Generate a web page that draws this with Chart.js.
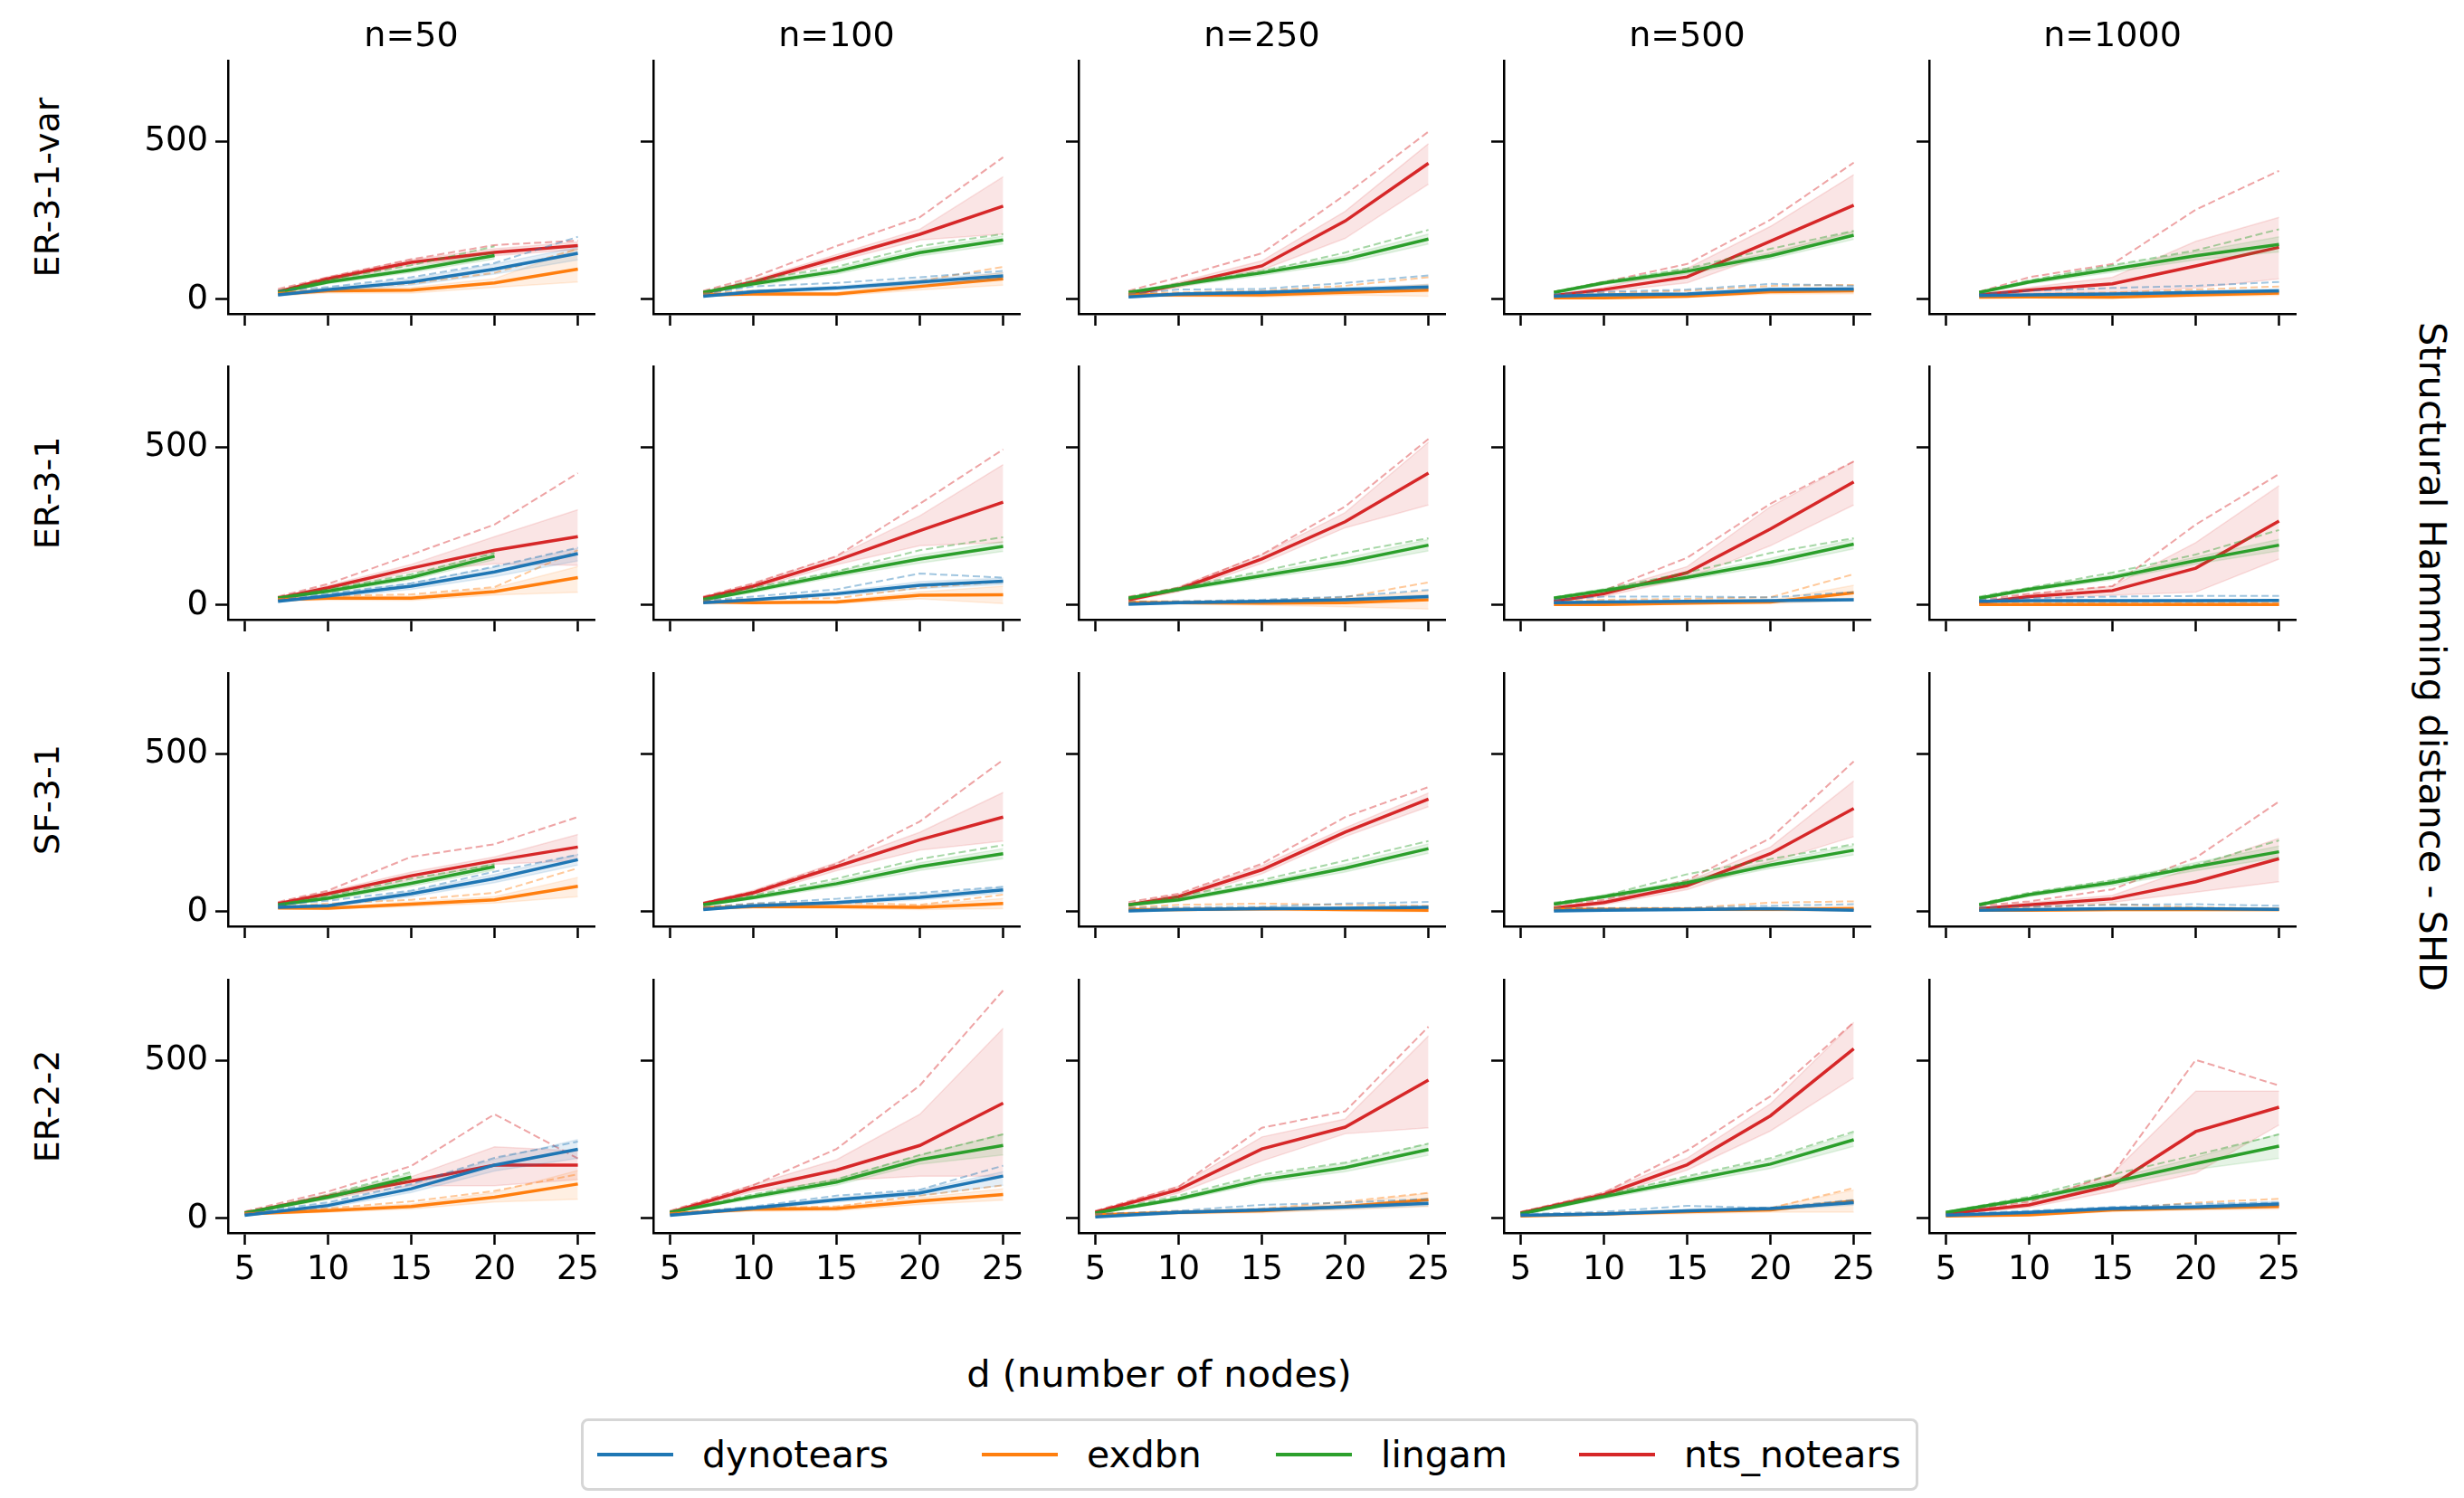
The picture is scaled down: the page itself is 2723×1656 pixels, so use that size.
<!DOCTYPE html>
<html>
<head>
<meta charset="utf-8">
<script src="https://cdn.jsdelivr.net/npm/chart.js@4.4.0/dist/chart.umd.min.js"></script>
<style>
  html, body { margin:0; padding:0; background:#fff; }
  #fig { position:relative; width:2723px; height:1656px; overflow:hidden; font-family:'DejaVu Sans', sans-serif; color:#000; }
  .panel { position:absolute; }
  .coltitle { position:absolute; font-size:38px; transform:translate(-50%,-50%); white-space:nowrap; }
  .rowlabel { position:absolute; font-size:38px; transform:translate(-50%,-50%) rotate(-90deg); white-space:nowrap; }
  .rightlabel { position:absolute; font-size:41.5px; transform:translate(-50%,-50%) rotate(90deg); white-space:nowrap; }
  .xlabel { position:absolute; font-size:41.5px; transform:translate(-50%,-50%); white-space:nowrap; }
  #legend { position:absolute; left:642px; top:1568px; width:1472px; height:74px; border:3px solid #d6d6d6; border-radius:8px; background:#fff; }
  .leg { position:absolute; top:0; height:74px; display:flex; align-items:center; font-size:41px; white-space:nowrap; }
  .leg i { display:inline-block; width:84px; height:4px; margin-right:32px; }
</style>
</head>
<body>
<div id="fig"></div>
<script>
// ---------- data ----------
const colTitles = ['n=50', 'n=100', 'n=250', 'n=500', 'n=1000'];
const rowLabels = ['ER-3-1-var', 'ER-3-1', 'SF-3-1', 'ER-2-2'];
const methodNames = ['dynotears', 'exdbn', 'lingam', 'nts_notears'];
const xTicks = [5, 10, 15, 20, 25];
const yTicks = [0, 500];
// d values per row
const dRows = [[7,10,15,20,25],[7,10,15,20,25],[7,10,15,20,25],[5,10,15,20,25]];

// [row][col] -> values at dRows[row]
const dynoMean = [
  [[14,31,55,96,146],[10,24,36,55,74],[8,17,22,31,39],[10,14,17,31,33],[12,14,17,22,27]],
  [[12,29,60,105,163],[8,17,36,63,76],[3,8,12,17,27],[8,10,12,14,17],[12,14,14,14,15]],
  [[14,19,57,105,165],[7,19,29,46,69],[3,7,10,11,14],[3,5,7,10,5],[5,7,10,10,8]],
  [[10,41,94,169,219],[10,33,59,81,134],[5,19,27,36,48],[10,14,24,31,50],[10,19,31,36,46]]
];
const dynoLo = [
  [[10,25,45,80,125],[7,19,30,47,64],[5,13,17,25,31],[7,10,13,25,27],[9,11,13,17,21]],
  [[9,24,50,90,140],[5,13,30,52,66],[1,5,9,13,21],[5,7,9,11,13],[9,11,11,11,12]],
  [[11,15,48,92,148],[5,15,24,38,60],[1,5,7,8,10],[1,3,5,7,3],[3,5,7,7,5]],
  [[8,34,82,150,190],[8,28,52,72,105],[3,15,22,30,40],[8,11,19,26,42],[8,15,26,30,38]]
];
const dynoHi = [
  [[18,37,65,112,165],[13,29,42,63,84],[11,21,27,37,47],[13,18,21,37,39],[15,17,21,27,33]],
  [[15,34,70,120,180],[11,21,42,74,86],[5,11,15,21,33],[11,13,15,17,21],[15,17,17,17,18]],
  [[17,23,66,118,182],[9,23,34,54,78],[5,9,13,14,18],[5,7,9,13,7],[7,9,13,13,11]],
  [[12,48,106,188,250],[12,38,66,90,148],[7,23,32,42,56],[12,17,29,36,58],[12,23,36,42,54]]
];
const dynoDash = [
  [[27,39,70,115,198],[17,41,52,70,90],[17,31,33,52,76],[17,24,31,49,43],[17,27,36,43,55]],
  [[17,36,69,122,182],[15,27,50,100,87],[10,12,17,27,48],[17,27,27,25,41],[17,22,27,29,29]],
  [[22,35,67,127,181],[14,26,41,60,79],[12,14,16,26,31],[12,12,12,19,24],[14,16,22,24,19]],
  [[15,51,109,192,243],[14,38,72,91,167],[14,24,43,50,62],[14,21,40,33,59],[14,24,36,46,50]]
];

const exdbnMean = [
  [[17,27,29,52,96],[14,17,17,41,65],[14,14,14,22,29],[5,5,10,24,27],[7,8,7,14,20]],
  [[17,22,22,43,87],[10,8,10,31,33],[8,8,6,8,17],[2,2,6,10,39],[2,2,2,2,2]],
  [[12,11,24,38,81],[12,16,16,14,26],[7,7,10,7,5],[8,8,8,8,10],[5,5,7,7,7]],
  [[14,25,38,67,109],[14,29,31,55,76],[11,19,24,38,59],[8,14,21,27,55],[8,11,27,33,38]]
];
const exdbnLo = [
  [[13,20,20,38,55],[10,12,11,30,45],[10,9,8,14,10],[2,2,6,17,18],[4,5,4,9,13]],
  [[13,16,15,32,41],[6,4,5,20,5],[4,3,0,-5,-12],[0,0,3,5,15],[0,0,0,0,0]],
  [[9,7,17,28,48],[8,11,10,7,10],[4,3,5,2,0],[5,5,4,3,2],[2,2,3,3,3]],
  [[11,19,30,52,61],[11,23,24,44,58],[8,14,18,28,38],[5,10,15,20,20],[5,8,21,26,30]]
];
const exdbnHi = [
  [[21,34,38,66,160],[18,22,23,52,85],[18,19,20,30,48],[8,8,14,31,36],[10,11,10,19,27]],
  [[21,28,29,54,122],[14,12,15,42,60],[12,13,12,21,46],[4,4,9,15,63],[4,4,4,4,4]],
  [[15,15,31,48,109],[16,21,22,21,42],[10,11,15,12,10],[11,11,12,13,18],[8,8,11,11,11]],
  [[17,31,46,82,152],[17,35,38,66,94],[14,24,30,48,80],[11,18,27,34,90],[11,14,33,40,46]]
];
const exdbnDash = [
  [[22,33,50,84,160],[20,27,36,58,103],[20,22,27,43,70],[14,20,27,43,46],[14,17,22,31,41]],
  [[19,29,34,57,174],[15,19,22,55,74],[12,12,14,25,72],[12,17,20,25,98],[8,8,8,8,8]],
  [[16,26,38,60,138],[14,26,29,22,54],[14,22,26,22,19],[14,11,11,29,33],[10,14,24,14,10]],
  [[17,32,54,87,140],[17,33,38,72,105],[14,21,31,53,81],[11,17,24,33,96],[11,17,31,50,62]]
];

const lingamMean = [
  [[22,55,93,139,null],[22,49,89,148,188],[22,46,84,127,191],[22,52,89,138,203],[22,55,96,138,174]],
  [[22,44,88,155,null],[17,46,98,146,186],[22,50,93,136,190],[22,46,88,136,193],[22,50,88,141,190]],
  [[22,43,90,143,null],[22,45,89,143,184],[22,38,86,138,200],[24,48,92,148,195],[22,54,92,143,190]],
  [[17,67,131,null,null],[19,69,115,186,231],[17,62,122,161,218],[14,69,120,172,249],[19,62,115,174,229]]
];
const lingamLo = [
  [[19,49,85,128,null],[19,43,80,137,175],[19,40,76,116,175],[19,46,81,128,190],[19,49,86,125,150]],
  [[19,38,80,144,null],[14,40,89,133,170],[19,44,84,124,172],[19,40,80,124,178],[19,44,80,130,172]],
  [[19,37,81,132,null],[19,39,80,131,168],[19,32,78,126,185],[21,42,84,137,180],[19,48,83,130,172]],
  [[14,60,120,null,null],[16,62,105,172,201],[14,56,112,148,200],[11,62,110,158,228],[16,56,105,155,190]]
];
const lingamHi = [
  [[25,61,101,150,null],[25,55,98,159,201],[25,52,92,138,207],[25,58,97,148,216],[25,61,106,151,198]],
  [[25,50,96,166,null],[20,52,107,159,202],[25,56,102,148,208],[25,52,96,148,208],[25,56,96,152,208]],
  [[25,49,99,154,null],[25,51,98,155,200],[25,44,94,150,215],[27,54,100,159,210],[25,60,101,156,208]],
  [[20,74,142,null,null],[22,76,125,200,268],[20,68,132,174,236],[17,76,130,186,270],[22,68,125,193,268]]
];
const lingamDash = [
  [[27,62,108,168,null],[24,60,103,169,207],[24,50,89,148,220],[24,55,98,160,217],[22,60,108,155,222]],
  [[25,50,98,165,null],[22,55,107,174,215],[25,55,107,165,212],[25,50,103,165,212],[27,55,103,160,238]],
  [[24,50,105,150,null],[24,52,105,167,211],[24,48,100,162,224],[29,50,119,167,214],[26,60,100,148,226]],
  [[19,75,147,null,null],[21,76,124,201,266],[19,72,139,177,237],[19,75,134,191,275],[21,69,139,201,266]]
];

const ntsMean = [
  [[24,65,117,149,170],[20,55,131,206,295],[14,46,106,248,431],[12,31,71,184,298],[14,29,49,106,165]],
  [[22,55,117,174,217],[22,60,141,236,326],[17,50,146,264,418],[12,36,103,241,390],[8,27,46,117,266]],
  [[26,57,114,162,205],[26,60,143,228,300],[22,48,133,252,357],[12,29,83,184,327],[10,22,41,95,168]],
  [[17,70,118,169,169],[19,96,153,231,365],[19,91,220,289,438],[17,75,170,325,537],[14,43,105,275,352]]
];
const ntsLo = [
  [[20,58,108,138,158],[16,48,120,188,207],[10,38,93,193,365],[9,24,52,146,212],[10,20,22,36,65]],
  [[18,48,105,131,126],[18,52,128,188,198],[13,42,132,245,317],[9,28,84,188,317],[5,20,31,41,146]],
  [[22,50,102,150,162],[22,52,130,195,224],[18,40,120,238,333],[9,22,70,157,238],[7,15,30,62,95]],
  [[14,62,104,104,123],[16,85,120,134,134],[16,80,182,268,287],[14,66,153,277,445],[11,35,86,143,296]]
];
const ntsHi = [
  [[28,72,126,160,182],[24,62,142,222,388],[18,54,122,279,493],[15,38,98,231,395],[18,38,70,184,260]],
  [[26,62,129,217,302],[26,68,154,283,445],[21,58,160,293,516],[15,44,122,312,455],[11,34,60,198,378]],
  [[30,64,126,174,245],[30,68,156,252,378],[26,56,146,266,376],[15,36,96,205,414],[13,29,52,143,233]],
  [[20,78,132,227,214],[22,107,186,330,602],[22,102,258,315,578],[20,84,191,363,621],[17,51,143,403,403]]
];
const ntsDash = [
  [[33,70,127,172,186],[27,70,169,260,450],[27,70,146,331,531],[24,55,112,252,433],[24,70,112,284,407]],
  [[27,67,160,255,418],[27,69,155,321,493],[27,55,160,312,526],[22,46,150,321,455],[17,36,60,255,415]],
  [[31,67,174,214,300],[29,64,152,286,481],[31,57,152,300,395],[22,38,100,233,476],[19,33,71,171,349]],
  [[22,85,166,330,190],[24,105,220,421,722],[24,100,287,339,607],[21,81,215,387,621],[19,53,139,502,421]]
];

// ---------- layout ----------
const FONT = "'DejaVu Sans', sans-serif";
const spineX = [252, 722, 1192, 1662, 2132];
const rowTop = [67, 405, 744, 1083];
const PW = 405, PH = 280;
const YW = 110, XH = 80, PAD_T = 32, PAD_R = 30;

const methods = [
  {rgb:'31,119,180', mean:dynoMean, lo:dynoLo, hi:dynoHi, dash:dynoDash},
  {rgb:'255,127,14', mean:exdbnMean, lo:exdbnLo, hi:exdbnHi, dash:exdbnDash},
  {rgb:'44,160,44', mean:lingamMean, lo:lingamLo, hi:lingamHi, dash:lingamDash},
  {rgb:'214,39,40', mean:ntsMean, lo:ntsLo, hi:ntsHi, dash:ntsDash}
];

const fig = document.getElementById('fig');

function pts(xs, ys){ return xs.map((x, i) => ({x: x, y: ys[i]})); }

function makePanel(r, c){
  const cv = document.createElement('canvas');
  const w = YW + PW + PAD_R, h = PAD_T + PH + XH;
  cv.width = w; cv.height = h;
  cv.className = 'panel';
  cv.style.left = (spineX[c] - YW) + 'px';
  cv.style.top = (rowTop[r] - PAD_T) + 'px';
  cv.style.width = w + 'px'; cv.style.height = h + 'px';
  fig.appendChild(cv);

  const xs = dRows[r];
  const datasets = [];
  methods.forEach(m => {
    datasets.push({data: pts(xs, m.hi[r][c]), borderColor:`rgba(${m.rgb},0.13)`, borderWidth:1.5,
      backgroundColor:`rgba(${m.rgb},0.12)`, fill:'+1', pointRadius:0, tension:0});
    datasets.push({data: pts(xs, m.lo[r][c]), borderColor:`rgba(${m.rgb},0.13)`, borderWidth:1.5,
      fill:false, pointRadius:0, tension:0});
    datasets.push({data: pts(xs, m.dash[r][c]), borderColor:`rgba(${m.rgb},0.42)`, borderWidth:2,
      borderDash:[8,4], fill:false, pointRadius:0, tension:0});
    datasets.push({data: pts(xs, m.mean[r][c]), borderColor:`rgb(${m.rgb})`, borderWidth:3.5,
      fill:false, pointRadius:0, tension:0});
  });

  new Chart(cv.getContext('2d'), {
    type: 'line',
    data: { datasets },
    options: {
      responsive:false, animation:false, devicePixelRatio:1,
      layout: { padding: {top:PAD_T, right:PAD_R, left:0, bottom:0} },
      plugins: { legend:{display:false}, tooltip:{enabled:false} },
      scales: {
        x: {
          type:'linear', min:4, max:26,
          afterBuildTicks: s => { s.ticks = xTicks.map(v => ({value:v})); },
          afterFit: s => { s.height = XH; },
          grid: { drawOnChartArea:false, drawTicks:true, tickLength:13, tickWidth:2.5, tickColor:'#000' },
          border: { display:true, color:'#000', width:2.5 },
          ticks: { display: r === 3, color:'#000', font:{family:FONT, size:37}, padding:6, maxRotation:0, autoSkip:false }
        },
        y: {
          type:'linear', min:-46, max:756,
          afterBuildTicks: s => { s.ticks = yTicks.map(v => ({value:v})); },
          afterFit: s => { s.width = YW; },
          grid: { drawOnChartArea:false, drawTicks:true, tickLength:14, tickWidth:2.5, tickColor:'#000' },
          border: { display:true, color:'#000', width:2.5 },
          ticks: { display: c === 0, color:'#000', font:{family:FONT, size:37}, padding:8 }
        }
      }
    }
  });
}

for (let r = 0; r < 4; r++) for (let c = 0; c < 5; c++) makePanel(r, c);

function addText(cls, text, x, y){
  const d = document.createElement('div');
  d.className = cls; d.textContent = text;
  d.style.left = x + 'px'; d.style.top = y + 'px';
  fig.appendChild(d);
}
colTitles.forEach((t, c) => addText('coltitle', t, spineX[c] + PW / 2, 38));
rowLabels.forEach((t, r) => addText('rowlabel', t, 52, rowTop[r] + PH / 2));
addText('rightlabel', 'Structural Hamming distance - SHD', 2688, 726);
addText('xlabel', 'd (number of nodes)', 1281, 1518);

// legend
const legend = document.createElement('div');
legend.id = 'legend';
fig.appendChild(legend);
const legLeft = [15, 440, 765, 1100];
const legColors = ['#1f77b4', '#ff7f0e', '#2ca02c', '#d62728'];
methodNames.forEach((n, i) => {
  const it = document.createElement('div');
  it.className = 'leg';
  it.style.left = legLeft[i] + 'px';
  it.innerHTML = `<i style="background:${legColors[i]}"></i><span>${n}</span>`;
  legend.appendChild(it);
});
</script>
</body>
</html>
